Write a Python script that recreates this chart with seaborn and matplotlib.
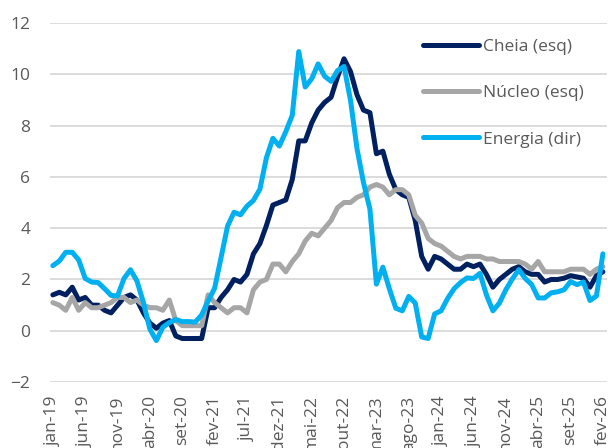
import pandas as pd
import seaborn as sns
import matplotlib.pyplot as plt

# meses jan-19 .. fev-26
meses = ['jan', 'fev', 'mar', 'abr', 'mai', 'jun', 'jul', 'ago', 'set', 'out', 'nov', 'dez']
periodos = [f"{m}-{a}" for a in range(19, 27) for m in meses][:86]

cheia = [1.4, 1.5, 1.4, 1.7, 1.2, 1.3, 1.0, 1.0, 0.8, 0.7, 1.0, 1.3,
         1.4, 1.2, 0.7, 0.3, 0.1, 0.3, 0.4, -0.2, -0.3, -0.3, -0.3, -0.3,
         0.9, 0.9, 1.3, 1.6, 2.0, 1.9, 2.2, 3.0, 3.4, 4.1, 4.9, 5.0,
         5.1, 5.9, 7.4, 7.4, 8.1, 8.6, 8.9, 9.1, 9.9, 10.6, 10.1, 9.2,
         8.6, 8.5, 6.9, 7.0, 6.1, 5.5, 5.3, 5.2, 4.3, 2.9, 2.4, 2.9,
         2.8, 2.6, 2.4, 2.4, 2.6, 2.5, 2.6, 2.2, 1.7, 2.0, 2.2, 2.4,
         2.5, 2.3, 2.2, 2.2, 1.9, 2.0, 2.0, 2.05, 2.15, 2.1, 2.05, 1.7,
         2.15, 2.3]

nucleo = [1.1, 1.0, 0.8, 1.3, 0.8, 1.1, 0.9, 0.9, 1.0, 1.1, 1.3, 1.3,
          1.1, 1.2, 1.0, 0.9, 0.9, 0.8, 1.2, 0.4, 0.2, 0.2, 0.2, 0.2,
          1.4, 1.1, 0.9, 0.7, 0.9, 0.9, 0.7, 1.6, 1.9, 2.0, 2.6, 2.6,
          2.3, 2.7, 3.0, 3.5, 3.8, 3.7, 4.0, 4.3, 4.8, 5.0, 5.0, 5.2,
          5.3, 5.6, 5.7, 5.6, 5.3, 5.5, 5.5, 5.3, 4.5, 4.2, 3.6, 3.4,
          3.3, 3.1, 2.9, 2.8, 2.9, 2.9, 2.9, 2.8, 2.8, 2.7, 2.7, 2.7,
          2.7, 2.6, 2.4, 2.7, 2.3, 2.3, 2.3, 2.3, 2.4, 2.4, 2.4, 2.2,
          2.4, 2.5]

# eixo direito (%), escala -20 a 50 (oculto)
energia = [2.7, 3.6, 5.3, 5.3, 3.8, 0.2, -0.5, -0.6, -1.8, -3.1, -3.2, 0.2,
           1.9, -0.3, -4.5, -9.7, -11.9, -9.3, -8.4, -7.8, -8.2, -8.2, -8.3, -6.9,
           -4.2, -1.7, 4.3, 10.4, 13.1, 12.6, 14.3, 15.4, 17.6, 23.7, 27.5, 26.0,
           28.8, 32.0, 44.4, 37.5, 39.1, 42.0, 39.6, 38.6, 40.7, 41.5, 34.9, 25.5,
           18.9, 13.7, -0.9, 2.4, -1.8, -5.6, -6.1, -3.3, -4.6, -11.2, -11.5, -6.7,
           -6.1, -3.7, -1.8, -0.6, 0.3, 0.2, 1.2, -3.0, -6.1, -4.6, -2.0, 0.1,
           1.9, 0.2, -1.0, -3.6, -3.6, -2.6, -2.4, -2.0, -0.4, -1.0, -0.5, -4.1,
           -3.2, 5.0]

df = pd.DataFrame({'mes': range(len(periodos)), 'cheia': cheia,
                   'nucleo': nucleo, 'energia': energia})

sns.set_theme(style='white')
plt.rcParams['font.family'] = ['Open Sans', 'DejaVu Sans']

fig, ax = plt.subplots(figsize=(6.08, 4.48), dpi=100)
fig.subplots_adjust(left=0.082, right=0.998, top=0.949, bottom=0.147)

sns.lineplot(data=df, x='mes', y='cheia', ax=ax, color='#002060', lw=3.6,
             label='Cheia (esq)')
sns.lineplot(data=df, x='mes', y='nucleo', ax=ax, color='#A6A6A6', lw=3.6,
             label='Núcleo (esq)')
ax2 = ax.twinx()
sns.lineplot(data=df, x='mes', y='energia', ax=ax2, color='#00B0F0', lw=3.6,
             label='Energia (dir)')

ax.set_ylim(-2, 12)
ax2.set_ylim(-20, 50)
ax.set_xlim(-0.46, 85.6)
ax.set_yticks(range(-2, 13, 2))
ax.set_xticks(range(0, 86, 5))
ax.set_xticklabels(periodos[::5], rotation=90)
ax.grid(axis='y', color='#D9D9D9', lw=1.3)
ax.set_xlabel('')
ax.set_ylabel('')
ax2.set_ylabel('')
ax2.set_yticks([])
ax.tick_params(axis='both', length=0, labelsize=12.5, labelcolor='#595959')
ax.tick_params(axis='y', pad=14)
ax.tick_params(axis='x', pad=9.5)
for a in (ax, ax2):
    for s in a.spines.values():
        s.set_visible(False)

h1, l1 = ax.get_legend_handles_labels()
h2, l2 = ax2.get_legend_handles_labels()
ax.get_legend().remove()
ax2.get_legend().remove()
ax2.legend(h1 + h2, l1 + l2, loc='upper left', bbox_to_anchor=(0.670, 0.955),
           frameon=False, fontsize=12.5, labelcolor='#595959', handlelength=3.2,
           handletextpad=0.23, labelspacing=1.73, borderpad=0, borderaxespad=0)

plt.savefig('out.png', dpi=100)
